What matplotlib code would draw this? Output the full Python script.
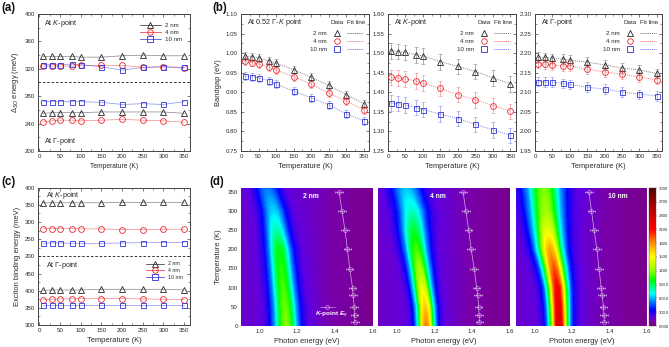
import numpy as np
import matplotlib
matplotlib.use("Agg")
import matplotlib.pyplot as plt
from matplotlib.colors import LinearSegmentedColormap
from matplotlib.lines import Line2D
from matplotlib.ticker import MultipleLocator, AutoMinorLocator

plt.rcParams.update({
    "font.family": ["Liberation Sans", "DejaVu Sans"],
    "mathtext.fontset": "custom",
    "mathtext.rm": "Liberation Sans",
    "mathtext.it": "Liberation Sans:italic",
    "mathtext.bf": "Liberation Sans:bold",
    "mathtext.bfit": "Liberation Sans:italic:bold",
    "font.size": 4.4,
    "axes.linewidth": 0.7,
    "axes.edgecolor": "#444444",
    "text.color": "#2a2a2a",
    "axes.labelcolor": "#2a2a2a",
    "xtick.color": "#444444",
    "ytick.color": "#444444",
    "xtick.labelcolor": "#2a2a2a",
    "ytick.labelcolor": "#2a2a2a",
})

W, H = 669, 347
temps = [10, 30, 50, 80, 100, 150, 200, 250, 300, 350]
sizes = ["2 nm", "4 nm", "10 nm"]
colors = ["#222222", "#e8242a", "#2a30d8"]
markers = ["^", "o", "s"]

# (a) spin-orbit splitting, meV
so_k_2 = [338, 338, 338, 338, 337, 337, 339, 340, 339, 339]
so_k_4 = [324, 324, 324, 324, 325, 325, 325, 322, 323, 321]
so_k_10 = [326, 326, 326, 327, 326, 323, 318, 322, 323, 322]
so_g_2 = [255, 256, 256, 256, 256, 257, 257, 257, 257, 255]
so_g_4 = [243, 244, 245, 245, 244, 245, 246, 245, 244, 242]
so_g_10 = [272, 272, 272, 272, 272, 271, 268, 269, 268, 272]

# (b) band gaps, eV
gap_m_2 = [.993, .991, .988, .980, .974, .958, .938, .918, .894, .871]
gap_m_4 = [.979, .976, .972, .964, .957, .940, .921, .898, .878, .855]
gap_m_10 = [.942, .940, .937, .929, .921, .903, .886, .868, .845, .827]
gap_k_2 = [1.506, 1.504, 1.502, 1.496, 1.493, 1.478, 1.466, 1.453, 1.437, 1.422]
gap_k_4 = [1.438, 1.436, 1.434, 1.429, 1.423, 1.410, 1.394, 1.381, 1.366, 1.351]
gap_k_10 = [1.372, 1.371, 1.368, 1.361, 1.356, 1.344, 1.333, 1.318, 1.304, 1.290]
gap_g_2 = [2.190, 2.189, 2.187, 2.185, 2.182, 2.177, 2.170, 2.162, 2.157, 2.148]
gap_g_4 = [2.173, 2.172, 2.170, 2.167, 2.167, 2.159, 2.152, 2.146, 2.139, 2.132]
gap_g_10 = [2.127, 2.126, 2.126, 2.123, 2.120, 2.113, 2.108, 2.101, 2.095, 2.091]

# (c) exciton binding energy, meV
eb_k_2 = [356, 356, 356, 356, 356, 356, 357, 357, 357, 357]
eb_k_4 = [281, 281, 281, 281, 280, 280, 278, 278, 279, 279]
eb_k_10 = [238, 239, 239, 238, 238, 238, 239, 240, 240, 240]
eb_g_2 = [401, 402, 402, 402, 402, 404, 404, 404, 404, 402]
eb_g_4 = [374, 375, 376, 376, 377, 377, 377, 376, 375, 374]
eb_g_10 = [358, 358, 358, 358, 358, 358, 358, 358, 358, 358]

# (d) photoluminescence maps: per-temperature peak energy, height and width
map_T = [0, 50, 100, 150, 200, 250, 300, 360]
peak_E_2 = [1.140, 1.135, 1.125, 1.115, 1.105, 1.090, 1.075, 1.040]
peak_I_2 = [1200, 1150, 1100, 1050, 1000, 800, 650, 520]
peak_W_2 = [.95, .95, .95, .95, .95, .97, 1.00, 1.05]
peak_E_4 = [1.155, 1.150, 1.135, 1.120, 1.103, 1.090, 1.080, 1.050]
peak_I_4 = [1850, 1650, 1450, 1250, 1100, 950, 780, 620]
peak_W_4 = [.64, .68, .74, .82, .92, 1.05, 1.18, 1.30]
peak_E_10 = [1.131, 1.128, 1.122, 1.105, 1.083, 1.070, 1.060, 1.050]
peak_I_10 = [2350, 2250, 2150, 1950, 1750, 1450, 1250, 1180]
peak_W_10 = [.68, .72, .78, .88, 1.00, 1.15, 1.30, 1.40]
shape_offset = [-.16, -.12, -.09, -.06, -.04, -.02, 0, .02, .04, .06, .09, .12, .16]
shape_rel = [.02, .06, .16, .40, .68, .92, 1, .92, .68, .40, .16, .06, .02]
bg_left_E, bg_left_I = 0.80, 130
bg_mid_E, bg_mid_I = [1.33, 1.45], [130, 85]
bg_right_E, bg_right_I = 1.70, 30
peak_bg_I = 160

cbar_ticks = [0, 300, 600, 900, 1200, 1500, 1800, 2100, 2400, 2700, 3000]
cbar_labels = ["0.000", "300.0", "600.0", "900.0", "1200", "1500", "1800", "2100", "2400", "2700", "3000"]
cmap_pos = [0, 100, 200, 350, 550, 700, 1000, 1200, 1500, 1800, 2100, 2500, 3000]
cmap_col = ["#780078", "#7800a8", "#6000e0", "#0000ff", "#0090ff", "#00ffff", "#00ff00",
            "#90ff00", "#ffff00", "#ff9000", "#ff0000", "#c00000", "#500000"]
cmap = LinearSegmentedColormap.from_list("pl", [(p / 3000, c) for p, c in zip(cmap_pos, cmap_col)], N=512)

fig = plt.figure(figsize=(W / 100, H / 100), dpi=100)


def axes_px(x0, y0, x1, y1):
    return fig.add_axes([x0 / W, 1 - y1 / H, (x1 - x0) / W, (y1 - y0) / H])


def style(ax, xlabel_size=5.4):
    ax.tick_params(which="major", direction="in", length=2, width=0.5, top=True, right=True, pad=2.2)
    ax.tick_params(which="minor", direction="in", length=1.1, width=0.4, top=True, right=True)
    ax.xaxis.set_minor_locator(AutoMinorLocator(2))
    ax.yaxis.set_minor_locator(AutoMinorLocator(2))
    ax.xaxis.labelpad = 3
    ax.yaxis.labelpad = 3
    ax.set_xlabel("Temperature (K)", fontsize=xlabel_size)


def series(ax, y, i, yerr=None, ls="-", lw=0.5):
    ax.plot(temps, y, ls=ls, lw=lw, color=colors[i], alpha=0.55, zorder=2)
    if yerr is not None:
        ax.errorbar(temps, y, yerr=yerr, fmt="none", ecolor=colors[i], elinewidth=0.5,
                    capsize=1.3, capthick=0.4, alpha=0.5, zorder=2)
    ax.plot(temps, y, ls="none", marker=markers[i], ms=4.2 if i == 1 else (3.6 if i == 2 else 4.5),
            mfc="none", mec=colors[i], mew=0.65, alpha=0.9, zorder=3)


def handle(i, ls="-"):
    return Line2D([], [], color=colors[i], lw=0.5, ls=ls, marker=markers[i],
                  ms=4, mfc="none", mec=colors[i], mew=0.6)


# ---------- (a)
ax = axes_px(38, 14, 190, 151)
for i, y in enumerate([so_k_2, so_k_4, so_k_10]):
    series(ax, y, i)
for i, y in enumerate([so_g_2, so_g_4, so_g_10]):
    series(ax, y, i)
ax.axhline(300, color="#333333", lw=0.7, ls=(0, (2.5, 2)))
ax.set_xlim(-3, 364)
ax.set_ylim(200, 400)
ax.xaxis.set_major_locator(MultipleLocator(50))
ax.yaxis.set_major_locator(MultipleLocator(40))
style(ax, 4.8)
ax.set_ylabel(r"$\mathit{\Delta}_{SO}$ energy (meV)", fontsize=5.4)
ax.text(0.04, 0.93, r"At $\mathit{K}$-point", transform=ax.transAxes, va="center", fontsize=5.2)
ax.text(0.04, 0.07, r"At $\mathit{\Gamma}$-point", transform=ax.transAxes, va="center", fontsize=5.2)
ax.legend([handle(i) for i in range(3)], sizes, loc="upper right", frameon=False, fontsize=4.5,
          bbox_to_anchor=(0.98, 0.97), handlelength=3.4, labelspacing=0.25, borderpad=0.2, handletextpad=0.7)

# ---------- (c)  two stacked scales that share one axis
ax = axes_px(38, 187.7, 190, 325)
G_SHIFT = 300
for i, y in enumerate([eb_k_2, eb_k_4, eb_k_10]):
    series(ax, y, i)
for i, y in enumerate([eb_g_2, eb_g_4, eb_g_10]):
    series(ax, np.array(y) - G_SHIFT, i)
ax.axhline(200, color="#333333", lw=0.7, ls=(0, (2.5, 2)))
ax.set_xlim(-3, 364)
ax.set_ylim(0, 400)
ax.xaxis.set_major_locator(MultipleLocator(50))
ax.set_yticks(range(0, 401, 50))
ax.set_yticklabels(["300", "350", "400", "450", "200", "250", "300", "350", "400"])
style(ax)
ax.set_ylabel("Exciton binding energy (meV)", fontsize=5.4)
ax.text(0.05, 0.945, r"At $\mathit{K}$-point", transform=ax.transAxes, va="center", fontsize=5.2)
ax.text(0.05, 0.435, r"At $\mathit{\Gamma}$-point", transform=ax.transAxes, va="center", fontsize=5.2)
ax.legend([handle(i) for i in range(3)], sizes, loc="upper right", frameon=False, fontsize=3.8,
          bbox_to_anchor=(0.98, 0.49), handlelength=3.4, labelspacing=0.3, borderpad=0.2, handletextpad=0.8)

# ---------- (b)
panels_b = [
    ((241, 14, 369, 151), [gap_m_2, gap_m_4, gap_m_10], (0.75, 1.10), 0.010,
     r"At 0.52 $\mathit{\Gamma}$-$\mathit{K}$ point", True),
    ((388, 14, 515.7, 151), [gap_k_2, gap_k_4, gap_k_10], (1.25, 1.60), 0.020,
     r"At $\mathit{K}$-point", False),
    ((535, 14, 662, 151), [gap_g_2, gap_g_4, gap_g_10], (1.95, 2.30), 0.012,
     r"At $\mathit{\Gamma}$-point", False),
]
for box, ys, lim, err, title, first in panels_b:
    ax = axes_px(*box)
    for i, y in enumerate(ys):
        series(ax, y, i, yerr=err, ls=(0, (1, 1)), lw=0.7)
    ax.set_xlim(0, 365)
    ax.set_ylim(*lim)
    ax.xaxis.set_major_locator(MultipleLocator(50))
    ax.yaxis.set_major_locator(MultipleLocator(0.05))
    ax.yaxis.set_major_formatter("{x:.2f}")
    style(ax)
    if first:
        ax.set_ylabel("Bandgap (eV)", fontsize=5.4)
    ax.text(0.05, 0.94, title, transform=ax.transAxes, va="center", fontsize=5.2)
    ax.text(0.75, 0.94, "Data", transform=ax.transAxes, va="center", ha="center", fontsize=4.5)
    ax.text(0.90, 0.94, "Fit line", transform=ax.transAxes, va="center", ha="center", fontsize=4.5)
    h = [Line2D([], [], ls="none", marker=markers[i], ms=4, mfc="none", mec=colors[i], mew=0.6) for i in range(3)]
    h += [Line2D([], [], ls=(0, (1, 1)), lw=0.7, color=colors[i], alpha=0.7) for i in range(3)]
    ax.legend(h, sizes + ["", "", ""], ncol=2, loc="upper right", frameon=False, fontsize=4.5, markerfirst=False,
              bbox_to_anchor=(0.99, 0.91), handlelength=2.6, labelspacing=0.45, borderpad=0.2,
              handletextpad=0.3, columnspacing=0.0)

# ---------- (d)
panels_d = [
    ((240.7, 188, 372.7, 326), peak_E_2, peak_I_2, peak_W_2, gap_k_2, "2 nm", 0.53),
    ((378, 188, 510, 326), peak_E_4, peak_I_4, peak_W_4, gap_k_4, "4 nm", 0.45),
    ((515.7, 188, 647, 326), peak_E_10, peak_I_10, peak_W_10, gap_k_10, "10 nm", 0.78),
]
levels = np.linspace(0, 3000, 151)
for n, (box, pE, pI, pW, eg, name, name_x) in enumerate(panels_d):
    ax = axes_px(*box)
    cols = len(shape_offset) + len(bg_mid_E) + 3
    X = np.zeros((len(map_T), cols))
    Z = np.zeros((len(map_T), cols))
    for r in range(len(map_T)):
        X[r] = [bg_left_E] + [pE[r] + o * pW[r] for o in shape_offset] + bg_mid_E + [bg_right_E] + [bg_right_E + 0.1]
        Z[r] = [bg_left_I] + [peak_bg_I * (1 - s) + pI[r] * s for s in shape_rel] + bg_mid_I + [bg_right_I] + [bg_right_I]
    Y = np.repeat(np.array(map_T)[:, None], cols, axis=1)
    ax.contourf(X, Y, Z, levels=levels, cmap=cmap, vmin=0, vmax=3000, antialiased=False, extend="both")
    ax.errorbar(eg, temps, xerr=0.02, color="#e8d8f0", lw=0.5, elinewidth=0.45, capsize=1, capthick=0.4,
                marker="o", ms=2.8, mfc="none", mec="#e8d8f0", mew=0.45, alpha=0.8)
    ax.set_xlim(0.9, 1.6)
    ax.set_ylim(0, 360)
    ax.set_xticks([1.0, 1.2, 1.4, 1.6])
    ax.set_yticks(range(0, 351, 50))
    ax.tick_params(axis="both", which="major", length=0, pad=2.2, labelsize=4.4)
    ax.tick_params(axis="y", labelleft=n == 0)
    for s in ax.spines.values():
        s.set_visible(False)
    ax.xaxis.labelpad = 3
    ax.set_xlabel("Photon energy (eV)", fontsize=5.4)
    if n == 0:
        ax.set_ylabel("Temperature (K)", fontsize=5.4, labelpad=4)
        ax.errorbar([1.36], [50], xerr=0.04, color="#e8d8f0", elinewidth=0.45, capsize=0,
                    marker="o", ms=2.8, mfc="none", mec="#e8d8f0", mew=0.45, alpha=0.8)
        ax.text(0.56, 0.08, r"$\mathbfit{K}$-point $\mathbfit{E}_{g}$", transform=ax.transAxes, color="white",
                fontsize=4.6, fontweight="bold", va="center")
    ax.text(name_x, 0.94, name, transform=ax.transAxes, color="white", fontsize=4.9,
            fontweight="bold", ha="center", va="center")

cax = axes_px(649, 188, 656, 326)
cb = fig.colorbar(plt.cm.ScalarMappable(norm=plt.Normalize(0, 3000), cmap=cmap), cax=cax)
cb.set_ticks(cbar_ticks)
cb.set_ticklabels(cbar_labels)
cb.ax.tick_params(length=1, width=0.3, labelsize=3.1, pad=0.8)
cb.outline.set_linewidth(0.3)

for lab, x, y in [("(a)", 1, 8), ("(b)", 212, 8), ("(c)", 1, 182), ("(d)", 209, 182)]:
    fig.text(x / W, 1 - y / H, lab, fontsize=8.3, fontweight="bold", color="#111111", va="center")

fig.savefig("out.png", dpi=100)
